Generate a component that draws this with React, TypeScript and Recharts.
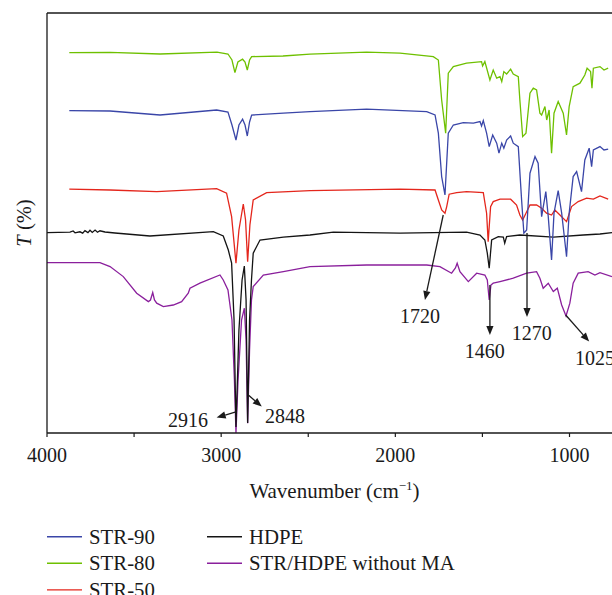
import { LineChart, Line, XAxis, YAxis, ReferenceLine, ReferenceDot, Label } from "recharts";

type Pair = [number, number];

// wavenumber (cm-1), offset transmittance
const str90: Pair[] = [
  [3872, 161.2], [3638, 161], [3351, 159], [3026, 161.5], [2961, 160.5], [2938, 154], [2915, 146.5],
  [2898, 154], [2877, 156.9], [2863, 154], [2850, 148.5], [2837, 155.5], [2825, 159], [2643, 159.9],
  [2490, 160.7], [2165, 161.9], [1820, 160.7], [1772, 159], [1753, 149.9], [1734, 128.2], [1715, 119],
  [1696, 149.9], [1667, 154], [1610, 155.2], [1552, 154.9], [1514, 155.7], [1505, 153.5], [1495, 156.2],
  [1476, 149.9], [1461, 143.2], [1441, 149], [1418, 144.9], [1405, 139.9], [1389, 144.9], [1377, 142.4],
  [1361, 146.5], [1338, 148.5], [1323, 144.9], [1294, 143.2], [1275, 116.5], [1262, 99.9], [1246, 101.5],
  [1227, 129.9], [1198, 138.2], [1180, 134.9], [1160, 108.2], [1136, 120.7], [1122, 108.2], [1103, 86.5],
  [1089, 109.9], [1065, 121.2], [1045, 109.9], [1017, 88.2], [1002, 109.9], [979, 128.2], [959, 130.7],
  [931, 120.7], [912, 136.5], [887, 142.4], [873, 133.2], [863, 141.5], [825, 143.2], [802, 141.5], [778, 141.9],
];

const str80: Pair[] = [
  [3872, 190.2], [3638, 190.3], [3351, 189.5], [3024, 190.4], [2961, 189.5], [2938, 186.5], [2921, 180.2],
  [2904, 185.5], [2877, 186.9], [2863, 185.5], [2850, 181.5], [2837, 186.5], [2825, 188.2], [2645, 188.5],
  [2490, 189.4], [2165, 190.4], [1973, 189.9], [1782, 188.2], [1753, 186.5], [1734, 166.5], [1711, 149.9],
  [1696, 179.9], [1667, 183.2], [1591, 184.9], [1505, 185.7], [1499, 183.5], [1486, 185.7], [1457, 176.5],
  [1438, 181.5], [1418, 177.4], [1399, 178.2], [1389, 175.7], [1377, 180.7], [1361, 179.5], [1338, 181.9],
  [1323, 179.5], [1294, 178.2], [1285, 166.5], [1269, 148.2], [1250, 149.9], [1227, 169.9], [1208, 172.4],
  [1189, 171.5], [1170, 159.9], [1160, 159], [1141, 163.2], [1131, 156.5], [1117, 161.5], [1103, 139.9],
  [1089, 159.9], [1065, 165.7], [1036, 159.9], [1017, 149], [1002, 163.2], [979, 173.2], [940, 174.9],
  [912, 179], [899, 182.4], [879, 180.7], [871, 172.4], [863, 182.4], [825, 183.2], [802, 181.5], [778, 182.4],
];

const str50: Pair[] = [
  [3872, 121.9], [3638, 121.5], [3370, 120.7], [3026, 122.2], [2969, 119.9], [2940, 108.2], [2915, 84.9],
  [2898, 101.5], [2873, 114.5], [2860, 106.5], [2848, 85.7], [2835, 104], [2816, 116.5], [2739, 120.2],
  [2490, 121.2], [1973, 121.9], [1772, 121.5], [1753, 116.5], [1734, 111.5], [1715, 109.9], [1705, 113.2],
  [1691, 119.4], [1648, 120.2], [1591, 120.7], [1495, 120.2], [1476, 109.9], [1467, 95.7], [1453, 113.2],
  [1438, 115.7], [1399, 116.9], [1338, 116.9], [1304, 114], [1285, 109], [1269, 106.5], [1250, 109.9],
  [1227, 114], [1189, 114], [1160, 112.4], [1132, 109.9], [1103, 109], [1084, 111.5], [1055, 109],
  [1017, 105.7], [988, 113.2], [950, 115.7], [902, 117.4], [863, 116.9], [825, 118.5], [778, 116.9],
];

const hdpe: Pair[] = [
  [4000, 100.2], [3868, 100.4], [3850, 101], [3839, 100.1], [3811, 100.6], [3795, 99.9], [3782, 101.2],
  [3765, 100.2], [3753, 101.4], [3740, 100.3], [3724, 101.5], [3710, 100.4], [3696, 101.1], [3667, 100.5],
  [3610, 100], [3409, 98.5], [3045, 100.7], [2988, 98.5], [2959, 91.5],
  [2940, 84.9], [2926, 56.5], [2915, 3], [2898, 51.5], [2880, 76.5], [2867, 83.5], [2857, 66.5],
  [2848, 5], [2837, 56.5], [2826, 76.5], [2816, 89.9], [2777, 96.5], [2643, 97.9], [2490, 99],
  [2356, 100.4], [1973, 99.9], [1591, 100.4], [1514, 99], [1486, 96.5], [1472, 89.9], [1461, 82.4],
  [1447, 96.5], [1409, 98.2], [1380, 97.9], [1372, 94.9], [1361, 98.2], [1285, 99], [1093, 97.9],
  [921, 99], [825, 99.5], [756, 100.2],
];

const blendNoMA: Pair[] = [
  [4000, 85.2], [3696, 85.2], [3638, 83.2], [3562, 78.2], [3485, 69.9], [3418, 65.7], [3406, 66.5],
  [3393, 70.2], [3383, 66.5], [3370, 64.9], [3332, 63.2], [3275, 64], [3227, 65.7], [3189, 69.9],
  [3179, 72.4], [3122, 74.9], [3007, 79], [2988, 76.5], [2961, 71.5], [2938, 56.5], [2924, 26.5],
  [2915, 0], [2903, 26.5], [2883, 56.5], [2867, 62.4], [2857, 46.5], [2848, 4.9], [2837, 41.5],
  [2826, 66.5], [2816, 73.2], [2758, 79], [2643, 80.7], [2490, 83.2], [2165, 84], [1820, 84],
  [1744, 83.2], [1677, 79.9], [1655, 82.5], [1645, 84.9], [1629, 80.7], [1581, 75.7], [1533, 79.9],
  [1486, 79], [1472, 76.5], [1461, 66.5], [1451, 74], [1438, 74.9], [1399, 75.7], [1323, 77.4],
  [1246, 79.9], [1189, 80.7], [1170, 77.4], [1151, 72.4], [1122, 74.9], [1093, 70.7], [1070, 72.4],
  [1045, 64], [1020, 58.5], [998, 64.9], [979, 74.9], [950, 79.9], [893, 80.7], [854, 79], [825, 80.2],
  [756, 78.2],
];

const xTicks = [4000, 3500, 3000, 2500, 2000, 1500, 1000];

type Note = { text: string; from: Pair; to: Pair; at: Pair; anchor: "start" | "middle" | "end" };
const notes: Note[] = [
  { text: "1720", from: [1725, 109], to: [1830, 66.5], at: [1858, 58.5], anchor: "middle" },
  { text: "1460", from: [1457, 74], to: [1457, 49], at: [1486, 41], anchor: "middle" },
  { text: "1270", from: [1244, 100], to: [1244, 58], at: [1217, 50], anchor: "middle" },
  { text: "1025", from: [1022, 59], to: [887, 45.7], at: [969, 37.5], anchor: "start" },
  { text: "2916", from: [2911, 10.7], to: [3026, 7.7], at: [3076, 6.5], anchor: "end" },
  { text: "2848", from: [2844, 19], to: [2767, 13.2], at: [2748, 8.5], anchor: "start" },
];

const series = [
  { name: "STR-90", color: "#3a46a8", points: str90 },
  { name: "STR-80", color: "#6ec000", points: str80 },
  { name: "STR-50", color: "#e4261c", points: str50 },
  { name: "HDPE", color: "#141414", points: hdpe },
  { name: "STR/HDPE without MA", color: "#8a1f9c", points: blendNoMA },
];
const drawOrder = [4, 3, 2, 0, 1];

const FONT = "'Liberation Serif', 'Times New Roman', serif";
const INK = "#1a1a1a";

function arrowShape(p: any) {
  const { x1, y1, x2, y2 } = p;
  const dx = x2 - x1;
  const dy = y2 - y1;
  const len = Math.hypot(dx, dy) || 1;
  const ux = dx / len;
  const uy = dy / len;
  const head = 9;
  const half = 3.6;
  const bx = x2 - ux * head;
  const by = y2 - uy * head;
  return (
    <g>
      <line x1={x1} y1={y1} x2={bx} y2={by} stroke={INK} strokeWidth={1.3} />
      <polygon
        points={`${x2},${y2} ${bx - uy * half},${by + ux * half} ${bx + uy * half},${by - ux * half}`}
        fill={INK}
      />
    </g>
  );
}

function YTitle(props: any) {
  const { x, y, height } = props.viewBox;
  const cx = x + 23.5;
  const cy = y + height / 2;
  return (
    <text
      x={cx}
      y={cy}
      transform={`rotate(-90, ${cx}, ${cy})`}
      textAnchor="middle"
      dy="0.35em"
      fontFamily={FONT}
      fontSize={20.5}
      fill={INK}
    >
      <tspan fontStyle="italic">T</tspan> (%)
    </text>
  );
}

function XTitle(props: any) {
  const { x, y } = props.viewBox;
  return (
    <text x={x + 287.5} y={y + 65} textAnchor="middle" fontFamily={FONT} fontSize={21} fill={INK}>
      Wavenumber (cm
      <tspan fontSize={13} dy={-8}>−1</tspan>
      <tspan dy={8}>)</tspan>
    </text>
  );
}

function LegendBlock() {
  return (
    <svg width={612} height={80} style={{ position: "absolute", left: 0, top: 515 }}>
      {series.map((s, i) => {
        const col = i < 3 ? 0 : 1;
        const row = col === 0 ? i : i - 3;
        const x0 = col === 0 ? 47 : 207;
        const y = 21.7 + row * 26.6;
        return (
          <g key={s.name}>
            <line x1={x0} x2={x0 + 35} y1={y} y2={y} stroke={s.color} strokeWidth={1.4} />
            <text x={x0 + 42} y={y + 6.8} fontFamily={FONT} fontSize={20.8} fill={INK}>
              {s.name}
            </text>
          </g>
        );
      })}
    </svg>
  );
}

export default function App() {
  return (
    <div style={{ position: "absolute", left: 0, top: 0, width: 612, height: 595, background: "#fff" }}>
      <LineChart width={612} height={520} margin={{ top: 13, right: 0, bottom: 0, left: 0 }}>
        <XAxis
          type="number"
          dataKey="wn"
          domain={[756, 4000]}
          reversed
          allowDataOverflow
          ticks={xTicks}
          tickFormatter={(v: number) => (v % 1000 === 0 ? String(v) : "")}
          tickSize={4}
          tickMargin={11}
          height={87}
          axisLine={{ stroke: INK, strokeWidth: 1.3 }}
          tickLine={{ stroke: INK, strokeWidth: 1.2 }}
          tick={{ fill: INK, fontSize: 20, fontFamily: FONT }}
        >
          <Label content={XTitle} />
        </XAxis>
        <YAxis
          type="number"
          domain={[0, 210]}
          allowDataOverflow
          width={47}
          tick={false}
          tickLine={false}
          axisLine={{ stroke: INK, strokeWidth: 1.3 }}
        >
          <Label content={YTitle} />
        </YAxis>
        <ReferenceLine y={210} stroke={INK} strokeWidth={1.3} ifOverflow="visible" />
        {drawOrder.map((i) => {
          const s = series[i];
          return (
            <Line
              key={s.name}
              data={s.points.map(([wn, t]) => ({ wn, t }))}
              dataKey="t"
              name={s.name}
              type="linear"
              stroke={s.color}
              strokeWidth={1.3}
              dot={false}
              activeDot={false}
              isAnimationActive={false}
            />
          );
        })}
        {notes.map((n) => (
          <ReferenceLine
            key={`a${n.text}`}
            segment={[
              { x: n.from[0], y: n.from[1] },
              { x: n.to[0], y: n.to[1] },
            ]}
            ifOverflow="visible"
            shape={arrowShape}
          />
        ))}
        {notes.map((n) => (
          <ReferenceDot
            key={`t${n.text}`}
            x={n.at[0]}
            y={n.at[1]}
            r={1}
            ifOverflow="visible"
            shape={(p: any) => (
              <text
                x={p.cx}
                y={p.cy}
                dy="0.35em"
                textAnchor={n.anchor}
                fontFamily={FONT}
                fontSize={20}
                fill={INK}
              >
                {n.text}
              </text>
            )}
          />
        ))}
      </LineChart>
      <LegendBlock />
    </div>
  );
}
